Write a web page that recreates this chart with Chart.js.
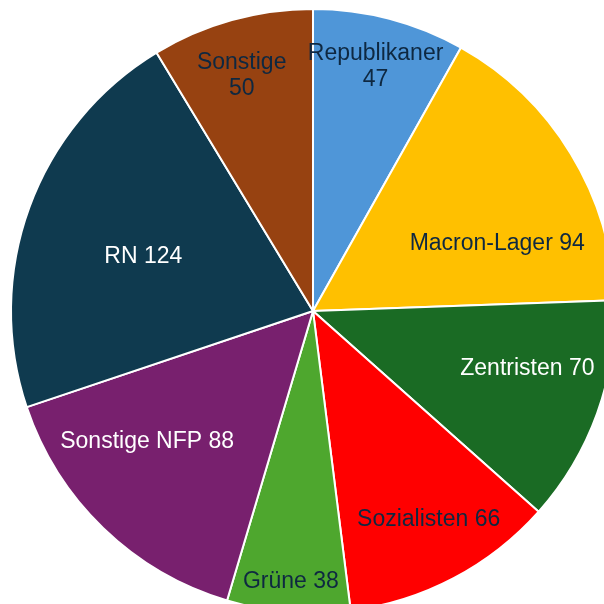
<!DOCTYPE html>
<html lang="de">

<head>
    <meta charset="UTF-8" />
    <title>Sitzverteilung</title>
    <script src="https://cdn.jsdelivr.net/npm/chart.js"></script>
    <style>
        html, body { margin: 0; padding: 0; overflow: hidden; background: #fff; }
        #wrap { position: absolute; left: 0; top: 0; }
    </style>
</head>

<body>
    <div id="wrap">
        <canvas id="grafica" width="626" height="622"></canvas>
    </div>

    <script>
        // Daten
        const parteien = ['Republikaner', 'Macron-Lager', 'Zentristen', 'Sozialisten', 'Grüne', 'Sonstige NFP', 'RN', 'Sonstige'];
        const sitze = [47, 94, 70, 66, 38, 88, 124, 50];
        const farben = ['#4F96D8', '#FFC000', '#1A6B24', '#FF0000', '#4EA72E', '#78206E', '#0F3A4F', '#974211'];
        const textFarben = ['#0E2841', '#0E2841', '#FFFFFF', '#0E2841', '#0E2841', '#FFFFFF', '#FFFFFF', '#0E2841'];
        const zweizeilig = [true, false, false, false, false, false, false, true];

        // Lage der Beschriftung: Anteil im Winkel des Segments, Anteil des Radius
        const labelWinkel = [0.49, 0.69, 0.39, 0.47, 0.50, 0.64, 0.47, 0.46];
        const labelRadius = [0.835, 0.65, 0.735, 0.79, 0.90, 0.70, 0.59, 0.815];

        const beschriftung = {
            id: 'beschriftung',
            afterDatasetsDraw(chart) {
                const ctx = chart.ctx;
                const meta = chart.getDatasetMeta(0);
                ctx.save();
                ctx.font = '23px "Liberation Sans", Arial, sans-serif';
                ctx.textAlign = 'center';
                ctx.textBaseline = 'middle';
                meta.data.forEach((arc, i) => {
                    const { x, y, startAngle, endAngle, outerRadius } = arc.getProps(['x', 'y', 'startAngle', 'endAngle', 'outerRadius'], true);
                    const a = startAngle + (endAngle - startAngle) * labelWinkel[i];
                    const r = outerRadius * labelRadius[i];
                    const px = x + Math.cos(a) * r;
                    const py = y + Math.sin(a) * r;
                    ctx.fillStyle = textFarben[i];
                    if (zweizeilig[i]) {
                        ctx.fillText(parteien[i], px, py - 13);
                        ctx.fillText(String(sitze[i]), px, py + 13);
                    } else {
                        ctx.fillText(parteien[i] + ' ' + sitze[i], px, py);
                    }
                });
                ctx.restore();
            }
        };

        new Chart(document.getElementById('grafica'), {
            type: 'pie',
            data: {
                labels: parteien,
                datasets: [{
                    data: sitze,
                    backgroundColor: farben,
                    borderColor: '#FFFFFF',
                    borderWidth: 2
                }]
            },
            options: {
                responsive: false,
                animation: false,
                layout: { padding: 8 },
                plugins: {
                    legend: { display: false },
                    tooltip: { enabled: false }
                }
            },
            plugins: [beschriftung]
        });
    </script>
</body>

</html>
